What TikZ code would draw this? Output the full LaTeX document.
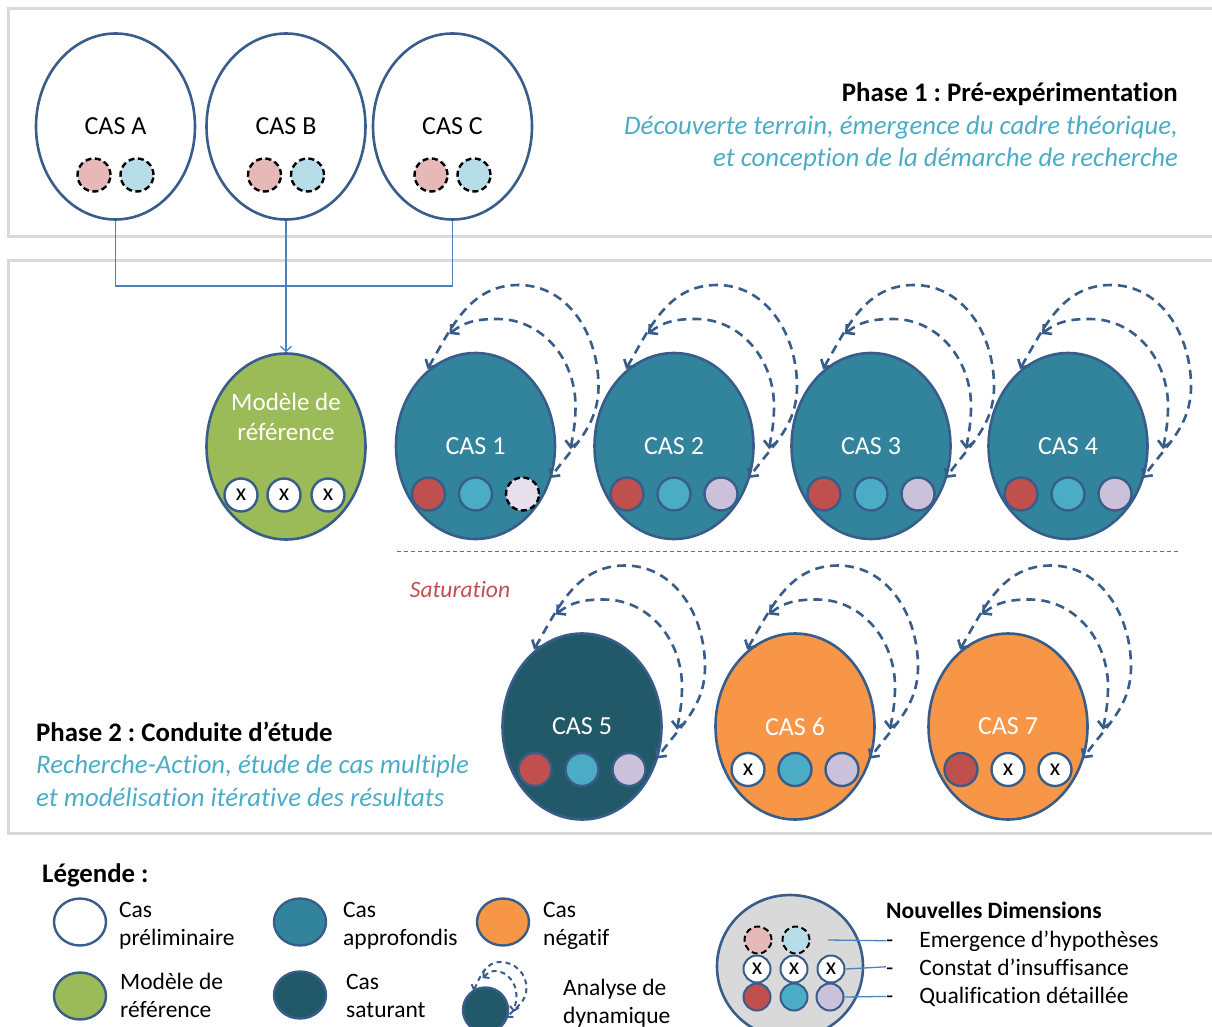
\documentclass[tikz,border=0pt]{standalone}
\usepackage{fontspec}
\setmainfont{Carlito}[Ligatures = NoCommon]
\frenchspacing
\usetikzlibrary{calc, shapes.geometric, arrows.meta}

\definecolor{bordure}{HTML}{385D8A}
\definecolor{gris}{HTML}{D9D9D9}
\definecolor{lien}{HTML}{4F81BD}
\definecolor{approf}{HTML}{31849B}
\definecolor{satur}{HTML}{215968}
\definecolor{modvert}{HTML}{9BBB59}
\definecolor{negatif}{HTML}{F79646}
\definecolor{rouge}{HTML}{C0504D}
\definecolor{bleu}{HTML}{4BACC6}
\definecolor{lavande}{HTML}{CCC1DA}
\definecolor{lavclair}{HTML}{E5E0EC}
\definecolor{rose}{HTML}{E6B9B8}
\definecolor{ciel}{HTML}{B7DEE8}

\tikzset{
	cadre/.style = {draw = gris, line width = 3pt},
	cas/.style = {ellipse, draw = bordure, line width = 2.6pt, minimum width = 159pt, minimum height = 186pt, inner sep = 0pt, font = \fontsize{26}{30}\selectfont},
	pastille/.style = {circle, line width = 2.4pt, minimum size = 33pt, inner sep = 0pt},
	petit/.style = {minimum size = 27pt, line width = 2pt},
	hyp/.style = {pastille, draw = black, dash pattern = on 6pt off 3.5pt},
	qual/.style = {pastille, draw = bordure, fill = #1},
	insuf/.style = {pastille, draw = bordure, fill = white, label = {[font = \fontsize{24}{24}\selectfont, inner sep = 0pt]center:x}},
	dyn/.style = {draw = bordure, line width = 2.6pt, dash pattern = on 9pt off 6pt, {Straight Barb[length = 6pt, width = 13pt]}-{Straight Barb[length = 6pt, width = 13pt]}},
	dynpetit/.style = {dyn, line width = 2pt, dash pattern = on 5pt off 4pt, {Straight Barb[length = 4pt, width = 9pt]}-{Straight Barb[length = 4pt, width = 9pt]}},
	lien/.style = {draw = lien, line width = 1.3pt},
	texte/.style = {inner sep = 0pt, font = \fontsize{26.8}{32.5}\selectfont},
	legtxt/.style = {inner sep = 0pt, align = left, font = \fontsize{23.5}{28}\selectfont},
	legcas/.style = {ellipse, draw = bordure, line width = 2.4pt, minimum width = 52pt, minimum height = 47pt, inner sep = 0pt}
}

\newcommand{\duo}[1]{%
	\node[hyp, fill = rose] (#1-1) at ($(#1)+(-21.5,-48.5)$) {};
	\node[hyp, fill = ciel] (#1-2) at ($(#1)+(21.5,-48.5)$) {};}

\newcommand{\trio}[5]{%
	\node[#3] (#1-1) at ($(#1)+(-47,-#2)$) {};
	\node[#4] (#1-2) at ($(#1)+(0,-#2)$) {};
	\node[#5] (#1-3) at ($(#1)+(47,-#2)$) {};}

\newcommand{\boucle}[1]{%
	\begin{scope}[shift = {(#1)}]
		\draw[dyn] (-48,77) to[out = 60, in = 180] (43,161) to[out = 0, in = 90] (123,60) to[out = -90, in = 55] (75,-32);
		\draw[dyn] (-26,112) to[out = 40, in = 180] (22,127) to[out = 0, in = 90] (100,40) to[out = -90, in = 80] (95,-3);
	\end{scope}}

\begin{document}
\begin{tikzpicture}[x = 1pt, y = 1pt]
	\useasboundingbox (0,0) rectangle (1212,-1027);

	\draw[cadre] (8,-9) rectangle (1230,-236);
	\draw[cadre] (8,-260) rectangle (1230,-833);

	% Phase 1
	\node[cas, fill = white] (casA) at (115.5,-126.5) {CAS A};
	\node[cas, fill = white] (casB) at (286,-126.5) {CAS B};
	\node[cas, fill = white] (casC) at (452.5,-126.5) {CAS C};
	\duo{casA}
	\duo{casB}
	\duo{casC}

	\node[texte, anchor = base east, align = right] (phase1) at (1178,-167)
		{\textbf{Phase 1 : Pré-expérimentation}\\
		\textcolor{bleu}{\itshape Découverte terrain, émergence du cadre théorique,}\\
		\textcolor{bleu}{\itshape et conception de la démarche de recherche}};

	% Phase 2
	\node[cas, fill = modvert] (modele) at (286,-446.5) {};
	\node[texte, text = white, align = center, anchor = base, font = \fontsize{25}{30}\selectfont] (modele-txt) at (286,-440) {Modèle de\\référence};
	\node[insuf] (modele-1) at ($(modele)+(-45,-48.5)$) {};
	\node[insuf] (modele-2) at ($(modele)+(-2,-48.5)$) {};
	\node[insuf] (modele-3) at ($(modele)+(42,-48.5)$) {};

	\coordinate (jonction) at (286,-286);
	\draw[lien] (casA.south) -- (casA.south |- jonction) -- (casC.south |- jonction) -- (casC.south);
	\draw[lien, -{Straight Barb[length = 5pt, width = 11pt]}] (casB.south) -- (modele.north);

	\node[cas, fill = approf, text = white] (cas1) at (475.5,-446) {CAS 1};
	\node[cas, fill = approf, text = white] (cas2) at (674,-446) {CAS 2};
	\node[cas, fill = approf, text = white] (cas3) at (871,-446) {CAS 3};
	\node[cas, fill = approf, text = white] (cas4) at (1068,-446) {CAS 4};
	\trio{cas1}{48}{qual = rouge}{qual = bleu}{hyp, fill = lavclair}
	\trio{cas2}{48}{qual = rouge}{qual = bleu}{qual = lavande}
	\trio{cas3}{48}{qual = rouge}{qual = bleu}{qual = lavande}
	\trio{cas4}{48}{qual = rouge}{qual = bleu}{qual = lavande}

	\draw[rouge, line width = 1pt, dash pattern = on 4pt off 3pt] (397,-551) -- (1178,-551);
	\node[texte, text = rouge, anchor = base, font = \fontsize{23.5}{28}\itshape] (saturation) at (460,-597) {Saturation};

	\node[cas, fill = satur, text = white] (cas5) at (582,-726.5) {CAS 5};
	\node[cas, fill = negatif, text = white] (cas6) at (795,-726.5) {CAS 6};
	\node[cas, fill = negatif, text = white] (cas7) at (1008,-726.5) {CAS 7};
	\trio{cas5}{43}{qual = rouge}{qual = bleu}{qual = lavande}
	\trio{cas6}{43}{insuf}{qual = bleu}{qual = lavande}
	\trio{cas7}{43}{qual = rouge}{insuf}{insuf}

	\boucle{cas1}
	\boucle{cas2}
	\boucle{cas3}
	\boucle{cas4}
	\boucle{cas5}
	\boucle{cas6}
	\boucle{cas7}

	\node[texte, anchor = base west, align = left] (phase2) at (36,-806)
		{\textbf{Phase 2 : Conduite d’étude}\\
		\textcolor{bleu}{\itshape Recherche-Action, étude de cas multiple}\\
		\textcolor{bleu}{\itshape et modélisation itérative des résultats}};

	% Legende
	\node[texte, anchor = base west] (legende) at (42,-882) {\textbf{Légende :}};

	\node[legcas, fill = white] (lg-prelim) at (80,-922) {};
	\node[legtxt, anchor = base west] (lg-prelim-txt) at (119,-945) {Cas\\préliminaire};
	\node[legcas, fill = modvert] (lg-modele) at (80,-996) {};
	\node[legtxt, anchor = base west] (lg-modele-txt) at (120,-1017) {Modèle de\\référence};
	\node[legcas, fill = approf] (lg-approf) at (300,-922) {};
	\node[legtxt, anchor = base west] (lg-approf-txt) at (343,-945) {Cas\\approfondis};
	\node[legcas, fill = satur] (lg-satur) at (300,-995) {};
	\node[legtxt, anchor = base west] (lg-satur-txt) at (346,-1017) {Cas\\saturant};
	\node[legcas, fill = negatif] (lg-negatif) at (503,-922) {};
	\node[legtxt, anchor = base west] (lg-negatif-txt) at (543,-945) {Cas\\négatif};

	\node[circle, draw = bordure, line width = 2.4pt, fill = satur, minimum size = 45pt, inner sep = 0pt] (lg-dyn) at (485.5,-1010) {};
	\begin{scope}[shift = {(lg-dyn)}]
		\draw[dynpetit] (-12,19) to[out = 65, in = 180] (15,48) to[out = 0, in = 90] (41,22) to[out = -90, in = 50] (21,-8);
		\draw[dynpetit] (-3,32) to[out = 40, in = 180] (9,39) to[out = 0, in = 90] (31,14) to[out = -90, in = 80] (28,-2);
	\end{scope}
	\node[legtxt, anchor = base west] (lg-dyn-txt) at (563,-1023) {Analyse de\\dynamique};

	\node[ellipse, draw = bordure, line width = 2.6pt, fill = gris, minimum width = 146pt, minimum height = 143pt] (nd) at (790,-966.5) {};
	\node[hyp, fill = rose, petit] (nd-h1) at (758,-940) {};
	\node[hyp, fill = ciel, petit] (nd-h2) at (796,-940) {};
	\node[insuf, petit] (nd-x1) at (757,-969) {};
	\node[insuf, petit] (nd-x2) at (794,-969) {};
	\node[insuf, petit] (nd-x3) at (831,-969) {};
	\node[qual = rouge, petit] (nd-q1) at (757,-997) {};
	\node[qual = bleu, petit] (nd-q2) at (794,-997) {};
	\node[qual = lavande, petit] (nd-q3) at (830,-997) {};

	\node[legtxt, anchor = base west] (nd-titre) at (886,-918) {\textbf{Nouvelles Dimensions}};
	\node[legtxt, anchor = base west] (nd-emer) at (886,-947) {-\hspace{26pt}Emergence d’hypothèses};
	\node[legtxt, anchor = base west] (nd-const) at (886,-975) {-\hspace{26pt}Constat d’insuffisance};
	\node[legtxt, anchor = base west] (nd-qualif) at (886,-1003) {-\hspace{26pt}Qualification détaillée};

	\coordinate (nd-h-fin) at (828,-940);
	\draw[lien] (nd-h-fin) -- (nd-emer.west);
	\draw[lien] (nd-x3.east) -- (nd-const.west);
	\draw[lien] (nd-q3.east) -- (nd-qualif.west);
\end{tikzpicture}
\end{document}
